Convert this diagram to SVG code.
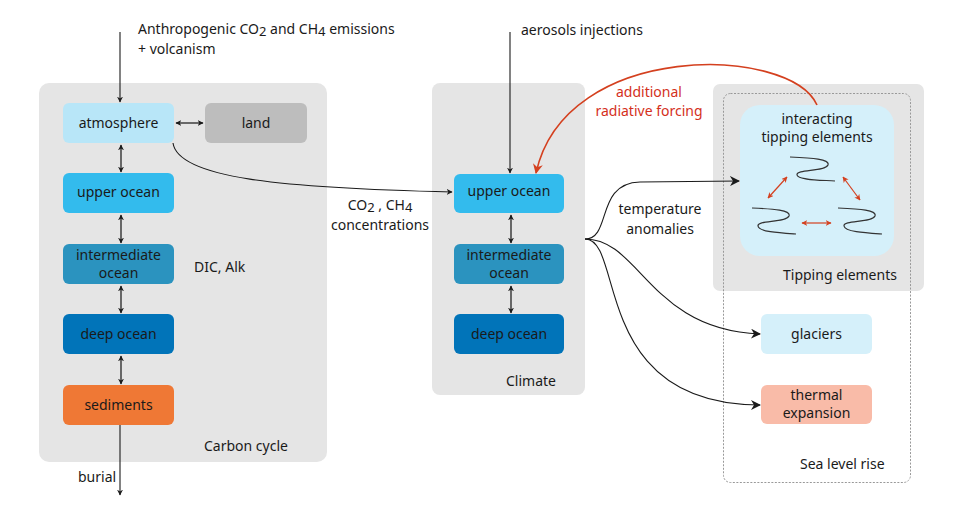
<svg xmlns="http://www.w3.org/2000/svg" width="958" height="529" viewBox="0 0 958 529">
<defs>
<style>
text{font-family:"Noto Sans","Open Sans",sans-serif;font-size:14px;fill:#1a1a1a}
.c{text-anchor:middle}
.panel{fill:#e5e5e5}
.box{stroke:none}
.ln{fill:none;stroke:#1a1a1a;stroke-width:1.1}
.bi{fill:none;stroke:#333;stroke-width:1.4;marker-start:url(#as);marker-end:url(#ae)}
.red{fill:none;stroke:#d4401f;stroke-width:1.2;marker-start:url(#rs);marker-end:url(#re)}
.sq{fill:none;stroke:#333;stroke-width:1.2}
.sub{font-size:13px}
</style>
<marker id="ae" viewBox="0 0 10 10" refX="9" refY="5" markerWidth="6" markerHeight="6" orient="auto" markerUnits="userSpaceOnUse"><path d="M0,0L10,5L0,10L3,5z" fill="#1a1a1a"/></marker>
<marker id="as" viewBox="0 0 10 10" refX="1" refY="5" markerWidth="6" markerHeight="6" orient="auto" markerUnits="userSpaceOnUse"><path d="M10,0L0,5L10,10L7,5z" fill="#1a1a1a"/></marker>
<marker id="big" viewBox="0 0 10 10" refX="9" refY="5" markerWidth="10" markerHeight="10" orient="auto" markerUnits="userSpaceOnUse"><path d="M0,0L10,5L0,10L3,5z" fill="#1a1a1a"/></marker>
<marker id="rbig" viewBox="0 0 10 10" refX="9" refY="5" markerWidth="10" markerHeight="10" orient="auto" markerUnits="userSpaceOnUse"><path d="M0,0L10,5L0,10L3,5z" fill="#d4401f"/></marker>
<marker id="re" viewBox="0 0 10 10" refX="9" refY="5" markerWidth="6" markerHeight="6" orient="auto" markerUnits="userSpaceOnUse"><path d="M0,0L10,5L0,10L3,5z" fill="#d4401f"/></marker>
<marker id="rs" viewBox="0 0 10 10" refX="1" refY="5" markerWidth="6" markerHeight="6" orient="auto" markerUnits="userSpaceOnUse"><path d="M10,0L0,5L10,10L7,5z" fill="#d4401f"/></marker>
</defs>
<rect width="958" height="529" fill="#fff"/>

<g id="panel-carbon"><rect class="panel" x="39" y="83" width="288" height="379" rx="10"/><text x="204" y="451">Carbon cycle</text></g>
<g id="panel-climate"><rect class="panel" x="432" y="83" width="153" height="312" rx="8"/><text x="506" y="386">Climate</text></g>
<g id="panel-tipping"><rect class="panel" x="713" y="84" width="211" height="207" rx="7"/><text x="783" y="280">Tipping elements</text></g>
<g id="panel-sealevel"><rect x="723.5" y="93.5" width="187" height="389" rx="7" fill="none" stroke="#999" stroke-width="1" stroke-dasharray="2,1.5"/><text x="800" y="469">Sea level rise</text></g>

<g id="atmosphere"><rect class="box" x="63" y="103" width="111" height="40" rx="6" fill="#b8e6f8"/><text class="c" x="118.5" y="128">atmosphere</text></g>
<g id="land"><rect class="box" x="205" y="103" width="102" height="40" rx="6" fill="#bdbdbd"/><text class="c" x="256" y="128">land</text></g>
<g id="cc-upper"><rect class="box" x="63" y="173" width="111" height="40" rx="6" fill="#33bbed"/><text class="c" x="118.5" y="197">upper ocean</text></g>
<g id="cc-inter"><rect class="box" x="63" y="244" width="111" height="40" rx="6" fill="#2b93bf"/><text class="c" x="118.5" y="260">intermediate</text><text class="c" x="118.5" y="278">ocean</text></g>
<g id="cc-deep"><rect class="box" x="63" y="314" width="111" height="40" rx="6" fill="#0174b9"/><text class="c" x="118.5" y="339">deep ocean</text></g>
<g id="sediments"><rect class="box" x="63" y="385" width="111" height="40" rx="6" fill="#ef7835"/><text class="c" x="118.5" y="410">sediments</text></g>
<g id="dic-label"><text x="194" y="272">DIC, Alk</text></g>

<g id="cl-upper"><rect class="box" x="454" y="174" width="110" height="39" rx="6" fill="#33bbed"/><text class="c" x="509" y="196">upper ocean</text></g>
<g id="cl-inter"><rect class="box" x="454" y="244" width="110" height="40" rx="6" fill="#2b93bf"/><text class="c" x="509" y="260">intermediate</text><text class="c" x="509" y="278">ocean</text></g>
<g id="cl-deep"><rect class="box" x="454" y="314" width="110" height="40" rx="6" fill="#0174b9"/><text class="c" x="509" y="339">deep ocean</text></g>

<g id="interacting"><rect class="box" x="740" y="105" width="154" height="151" rx="20" fill="#d5f0fa"/><text class="c" x="817" y="124">interacting</text><text class="c" x="817" y="142">tipping elements</text>
<path class="sq" d="M790,157 C812,158 830,159 828,165 C825,172 796,169 797,175 C798,180 820,180 835,181"/>
<path class="sq" d="M752,208 C774,209 791,210 789,216 C786,223 757,220 758,226 C759,232 780,233 796,234"/>
<path class="sq" d="M838,208 C860,209 877,210 875,216 C872,223 843,220 844,226 C845,232 866,233 882,234"/>
<path class="red" d="M768,198 L787,177"/>
<path class="red" d="M843,177 L860,200"/>
<path class="red" d="M802,223 L831,223"/>
</g>

<g id="glaciers"><rect class="box" x="761" y="314" width="111" height="40" rx="6" fill="#d5f0fa"/><text class="c" x="816.5" y="339">glaciers</text></g>
<g id="thermal"><rect class="box" x="761" y="385" width="111" height="39" rx="6" fill="#f9bba8"/><text class="c" x="816.5" y="400">thermal</text><text class="c" x="816.5" y="418">expansion</text></g>

<g id="connectors">
<path class="ln" d="M120,32 L120,102" marker-end="url(#ae)"/>
<path class="ln" d="M510,32 L510,173" marker-end="url(#ae)"/>
<path class="ln" d="M120,425 L120,495" marker-end="url(#ae)"/>
<path class="bi" d="M176,123 L203,123"/>
<path class="bi" d="M121,145 L121,172"/>
<path class="bi" d="M121,215 L121,243"/>
<path class="bi" d="M121,286 L121,313"/>
<path class="bi" d="M121,356 L121,384"/>
<path class="bi" d="M511,215 L511,243"/>
<path class="bi" d="M511,286 L511,313"/>
<path class="ln" d="M173,143 C178,178 280,188 452,192" marker-end="url(#ae)"/>
<path d="M817,105 C790,45 565,40 536,173" fill="none" stroke="#d4401f" stroke-width="1.6" marker-end="url(#rbig)"/>
<path class="ln" d="M585,239 C612,239 595,183 640,182 L739,181" marker-end="url(#big)"/>
<path class="ln" d="M585,239 C640,239 650,330 760,334" marker-end="url(#big)"/>
<path class="ln" d="M585,239 C625,239 590,405 760,405" marker-end="url(#big)"/>
</g>

<g id="labels">
<text x="138" y="34">Anthropogenic CO<tspan class="sub" dy="2">2</tspan><tspan dy="-2"> and CH</tspan><tspan class="sub" dy="2">4</tspan><tspan dy="-2"> emissions</tspan></text>
<text x="138" y="54">+ volcanism</text>
<text x="521" y="35">aerosols injections</text>
<text class="c" x="649" y="97" style="fill:#d4301c">additional</text>
<text class="c" x="649" y="116" style="fill:#d4301c">radiative forcing</text>
<text class="c" x="380" y="210">CO<tspan class="sub" dy="2">2</tspan><tspan dy="-2">  , CH</tspan><tspan class="sub" dy="2">4</tspan></text>
<text class="c" x="380" y="230">concentrations</text>
<text class="c" x="660" y="214">temperature</text>
<text class="c" x="660" y="234">anomalies</text>
<text x="78" y="482">burial</text>
</g>
</svg>
